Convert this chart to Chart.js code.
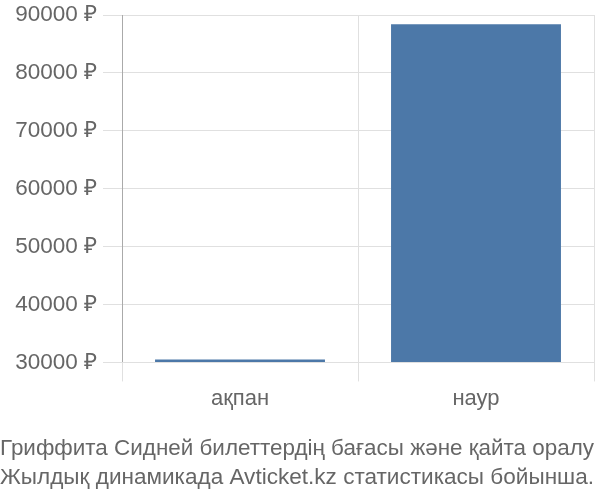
<!DOCTYPE html>
<html>
<head>
<meta charset="utf-8">
<script src="https://cdn.jsdelivr.net/npm/chart.js@4/dist/chart.umd.min.js"></script>
<style>
  html, body { margin: 0; padding: 0; background: #fff; }
  #wrap { width: 600px; height: 500px; }
</style>
</head>
<body>
<div id="wrap"><canvas id="chart"></canvas></div>
<script>
const months = ['ақпан', 'наур'];
const prices = [30500, 88400];
const titleLines = [
    'Гриффита Сидней билеттердің бағасы және қайта оралу',
    'Жылдық динамикада Avticket.kz статистикасы бойынша.'
];

const ctx = document.getElementById('chart').getContext('2d');
new Chart(ctx, {
    type: 'bar',
    data: {
        labels: months,
        datasets: [{
            data: prices,
            backgroundColor: '#4c78a8',
            base: 30000
        }]
    },
    options: {
        responsive: true,
        maintainAspectRatio: false,
        animation: false,
        layout: { padding: { left: 0, right: 6, top: 0, bottom: 0 } },
        plugins: {
            legend: { display: false },
            tooltip: { enabled: false },
            title: {
                display: true,
                position: 'bottom',
                text: titleLines,
                color: '#666',
                font: { family: 'Liberation Sans', size: 22.9, weight: 'normal', lineHeight: 1.27 },
                padding: { top: 18, bottom: 8 }
            }
        },
        scales: {
            y: {
                min: 30000,
                max: 90000,
                afterFit: axis => { axis.width = 122; },
                ticks: {
                    stepSize: 10000,
                    color: '#666',
                    padding: 6,
                    font: { family: 'Liberation Sans', size: 22.5, lineHeight: 0.8 },
                    callback: v => v + ' ₽'
                },
                grid: { color: '#e0e0e0', tickLength: 19 },
                border: { color: '#aaa' }
            },
            x: {
                ticks: {
                    color: '#666',
                    padding: 4,
                    font: { family: 'Liberation Sans', size: 22 }
                },
                grid: { color: '#e0e0e0', offset: true, tickLength: 19 },
                border: { color: '#e0e0e0' }
            }
        }
    }
});
</script>
</body>
</html>
